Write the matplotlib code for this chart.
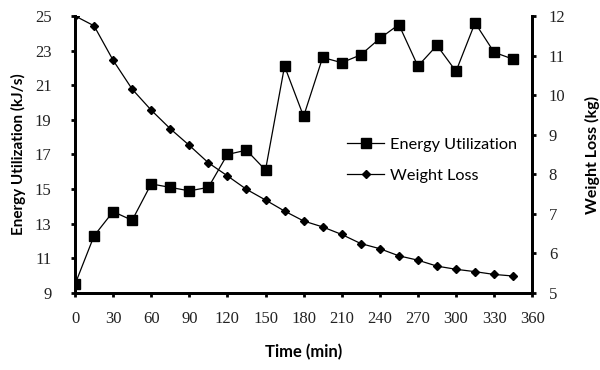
import matplotlib
matplotlib.use("Agg")
import matplotlib.pyplot as plt
from matplotlib.lines import Line2D

time_min = [0, 15, 30, 45, 60, 75, 90, 105, 120, 135, 150, 165,
            180, 195, 210, 225, 240, 255, 270, 285, 300, 315, 330, 345]
energy = [9.5, 12.3, 13.7, 13.2, 15.3, 15.1, 14.9, 15.1, 17.0, 17.25, 16.1, 22.1,
          19.2, 22.6, 22.3, 22.75, 23.7, 24.5, 22.1, 23.3, 21.8, 24.6, 22.9, 22.5]
weight = [12.0, 11.75, 10.88, 10.15, 9.62, 9.15, 8.73, 8.29, 7.96, 7.62, 7.35, 7.07,
          6.82, 6.67, 6.48, 6.25, 6.12, 5.94, 5.83, 5.68, 5.60, 5.54, 5.47, 5.43]

x_ticks = list(range(0, 361, 30))
left_ticks = list(range(9, 26, 2))
right_ticks = list(range(5, 13))

num_font = "Liberation Serif"
lab_font = "Lato"

fig = plt.figure(figsize=(6, 3.7), dpi=100)
ax = fig.add_axes([0.125, 0.208, 0.762, 0.749])
ax2 = ax.twinx()

ax.plot(time_min, energy, color="black", lw=0.9, marker="s", ms=7.5,
        mfc="black", mec="black", zorder=3)
ax2.plot(time_min, weight, color="black", lw=0.9, marker="D", ms=4.5,
         mfc="black", mec="black", zorder=3)

ax.set_xlim(0, 360)
ax.set_ylim(9, 25)
ax2.set_ylim(5, 12)
ax.set_xticks(x_ticks)
ax.set_yticks(left_ticks)
ax2.set_yticks(right_ticks)

for a in (ax, ax2):
    a.spines["top"].set_visible(False)
    for s in ("left", "right", "bottom"):
        a.spines[s].set_linewidth(2)
ax.tick_params(axis="both", direction="out", width=2, length=3, labelsize=12)
ax.tick_params(axis="x", pad=10)
ax.tick_params(axis="y", pad=14)
ax2.tick_params(axis="y", direction="out", width=2, length=3, labelsize=12, pad=9)
for lbl in ax.get_xticklabels() + ax.get_yticklabels() + ax2.get_yticklabels():
    lbl.set_fontfamily(num_font)
    lbl.set_color("#222222")

ax.set_xlabel("Time (min)", fontfamily=lab_font, fontsize=12, fontweight="bold", labelpad=12)
ax.set_ylabel("Energy Utilization (kJ/s)", fontfamily=lab_font, fontsize=11,
              fontweight="bold")
ax.yaxis.set_label_coords(-0.108, 0.5)
ax2.set_ylabel("Weight Loss (kg)", fontfamily=lab_font, fontsize=11.5,
               fontweight="bold", labelpad=14)

handles = [
    Line2D([], [], color="black", lw=0.9, marker="s", ms=7.5, mfc="black"),
    Line2D([], [], color="black", lw=0.9, marker="D", ms=4.5, mfc="black"),
]
ax.legend(handles, ["Energy Utilization", "Weight Loss"], loc="center left",
          bbox_to_anchor=(0.595, 0.48), frameon=False, borderpad=0,
          borderaxespad=0, handlelength=2.3, handletextpad=0.35,
          labelspacing=1.0, prop={"family": lab_font, "size": 11.7})

fig.savefig("out.png", dpi=100)
